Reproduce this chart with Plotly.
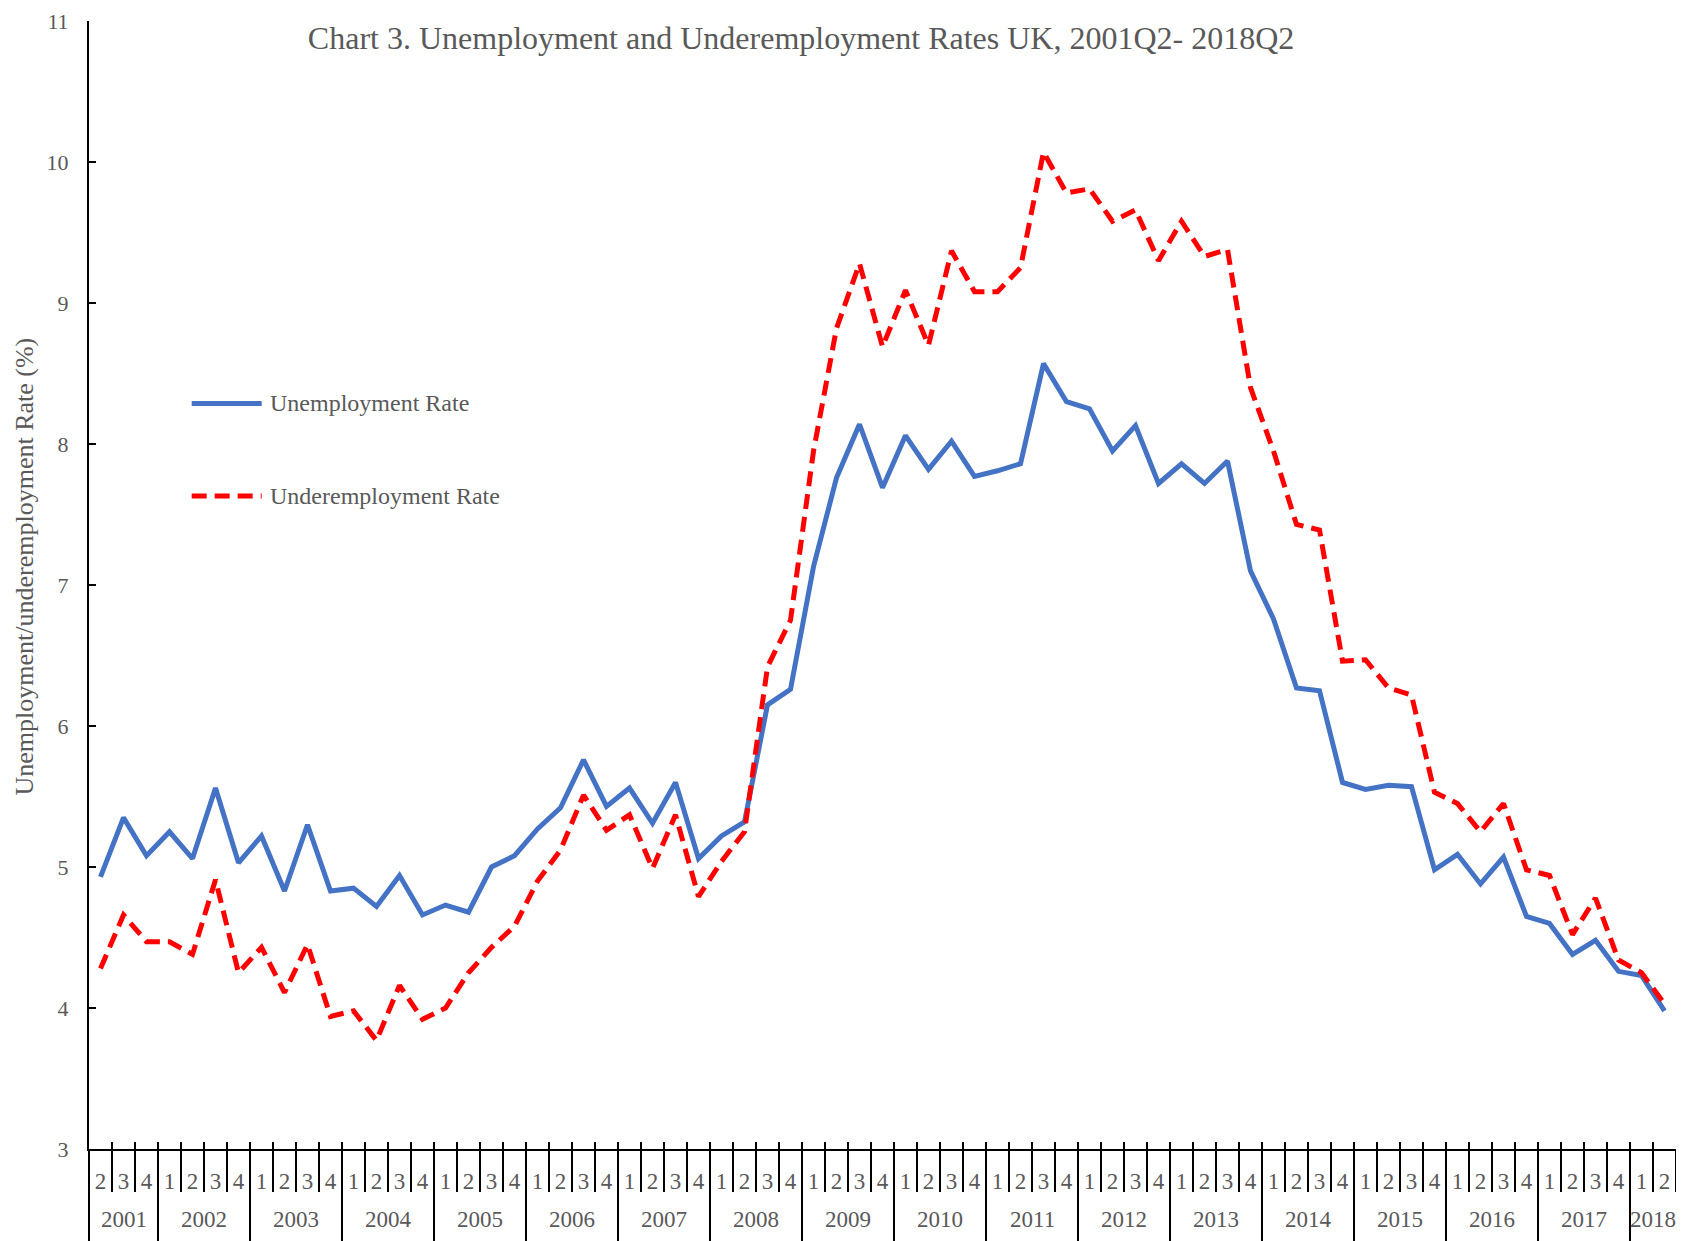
import plotly.graph_objects as go

GREY = "#595959"
FONT = "Liberation Serif"

# quarters shown: 2001Q2 .. 2018Q2
YEARS = list(range(2001, 2019))
FIRST_Q = 2
LAST_Q = 2

UNEMPLOYMENT = [
    4.93, 5.35, 5.08, 5.25, 5.06, 5.56, 5.03, 5.22, 4.83, 5.30,
    4.83, 4.85, 4.72, 4.94, 4.66, 4.73, 4.68, 5.00, 5.08, 5.27,
    5.42, 5.76, 5.43, 5.56, 5.31, 5.60, 5.06, 5.22, 5.32, 6.15,
    6.26, 7.13, 7.76, 8.14, 7.69, 8.06, 7.82, 8.02, 7.77, 7.81,
    7.86, 8.57, 8.30, 8.25, 7.95, 8.13, 7.72, 7.86, 7.72, 7.88,
    7.10, 6.76, 6.27, 6.25, 5.60, 5.55, 5.58, 5.57, 4.98, 5.09,
    4.88, 5.07, 4.65, 4.60, 4.38, 4.48, 4.26, 4.23, 3.98,
]
UNDEREMPLOYMENT = [
    4.28, 4.66, 4.47, 4.47, 4.38, 4.91, 4.25, 4.43, 4.11, 4.45,
    3.94, 3.98, 3.77, 4.16, 3.92, 4.00, 4.25, 4.43, 4.58, 4.90,
    5.12, 5.51, 5.26, 5.37, 4.99, 5.37, 4.79, 5.04, 5.25, 6.42,
    6.75, 7.95, 8.82, 9.28, 8.69, 9.09, 8.70, 9.37, 9.08, 9.08,
    9.25, 10.07, 9.78, 9.81, 9.58, 9.66, 9.30, 9.58, 9.33, 9.38,
    8.40, 7.95, 7.43, 7.39, 6.46, 6.47, 6.27, 6.22, 5.53, 5.45,
    5.25, 5.45, 4.98, 4.94, 4.52, 4.78, 4.34, 4.25, 4.03,
]
Y_TICKS = [3, 4, 5, 6, 7, 8, 9, 10, 11]

SERIES = [
    ("Unemployment Rate", UNEMPLOYMENT, "#4472C4", "solid"),
    ("Underemployment Rate", UNDEREMPLOYMENT, "#FF0000", "15px,8px"),
]

# build the period categories
periods = []
for year in YEARS:
    for q in range(1, 5):
        if year == YEARS[0] and q < FIRST_Q:
            continue
        if year == YEARS[-1] and q > LAST_Q:
            continue
        periods.append((year, q))
categories = [f"{y}Q{q}" for y, q in periods]
n = len(categories)

fig = go.Figure()
for name, values, color, dash in SERIES:
    fig.add_trace(
        go.Scatter(
            x=categories,
            y=values,
            name=name,
            mode="lines",
            line=dict(color=color, width=5, dash=dash),
            showlegend=False,
        )
    )

shapes = []
annotations = []

# separators below the axis: short between quarters, long between years
for k in range(n + 1):
    new_year = k == 0 or (k < n and periods[k][1] == 1)
    shapes.append(
        dict(
            type="line",
            xref="paper",
            yref="paper",
            ysizemode="pixel",
            yanchor=0,
            x0=k / n,
            x1=k / n,
            y0=0,
            y1=-95 if new_year else -43,
            line=dict(color="black", width=2),
        )
    )

# year labels centred on their quarters
for year in YEARS:
    idx = [i for i, p in enumerate(periods) if p[0] == year]
    annotations.append(
        dict(
            text=str(year),
            xref="paper",
            yref="paper",
            x=(idx[0] + idx[-1] + 1) / 2 / n,
            y=0,
            yshift=-70,
            xanchor="center",
            yanchor="middle",
            showarrow=False,
            font=dict(family=FONT, size=23, color=GREY),
        )
    )

# hand-made legend (long line samples as in the original)
for j, (name, values, color, dash) in enumerate(SERIES):
    ly = 0.661 - j * 0.082
    shapes.append(
        dict(
            type="line",
            xref="paper",
            yref="paper",
            x0=0.0647,
            x1=0.1088,
            y0=ly,
            y1=ly,
            line=dict(color=color, width=5, dash=dash),
        )
    )
    annotations.append(
        dict(
            text=name,
            xref="paper",
            yref="paper",
            x=0.113,
            y=ly,
            xanchor="left",
            yanchor="middle",
            showarrow=False,
            font=dict(family=FONT, size=24, color=GREY),
        )
    )

# y axis title, sitting a little above the middle as in the original
annotations.append(
    dict(
        text="Unemployment/underemployment Rate (%)",
        xref="paper",
        yref="paper",
        x=0,
        y=0.5164,
        xshift=-64,
        xanchor="center",
        yanchor="middle",
        textangle=-90,
        showarrow=False,
        font=dict(family=FONT, size=26, color=GREY),
    )
)

fig.update_layout(
    width=1676,
    height=1233,
    margin=dict(l=81, r=8, t=13, b=92),
    paper_bgcolor="white",
    plot_bgcolor="white",
    font=dict(family=FONT, color=GREY),
    title=dict(
        text="Chart 3. Unemployment and Underemployment Rates UK, 2001Q2- 2018Q2",
        x=0.4732,
        xanchor="center",
        y=1 - 30 / 1233,
        yanchor="middle",
        font=dict(family=FONT, size=32, color=GREY),
    ),
    shapes=shapes,
    annotations=annotations,
)
fig.update_xaxes(
    type="category",
    categoryorder="array",
    categoryarray=categories,
    range=[-0.5, n - 0.5],
    tickmode="array",
    tickvals=categories,
    ticktext=[str(q) for _, q in periods],
    tickangle=0,
    ticks="inside",
    tickson="boundaries",
    ticklen=7,
    tickwidth=2,
    tickcolor="black",
    ticklabelstandoff=10,
    tickfont=dict(family=FONT, size=23, color=GREY),
    showline=True,
    linecolor="black",
    linewidth=2,
    showgrid=False,
    zeroline=False,
    automargin=False,
)
fig.update_yaxes(
    range=[3, 11],
    tickvals=Y_TICKS,
    ticks="inside",
    ticklen=7,
    tickwidth=2,
    tickcolor="black",
    ticklabelstandoff=14,
    ticklabeloverflow="allow",
    tickfont=dict(family=FONT, size=22, color=GREY),
    showline=True,
    linecolor="black",
    linewidth=2,
    showgrid=False,
    zeroline=False,
    automargin=False,
)

fig.write_html("out.html")
